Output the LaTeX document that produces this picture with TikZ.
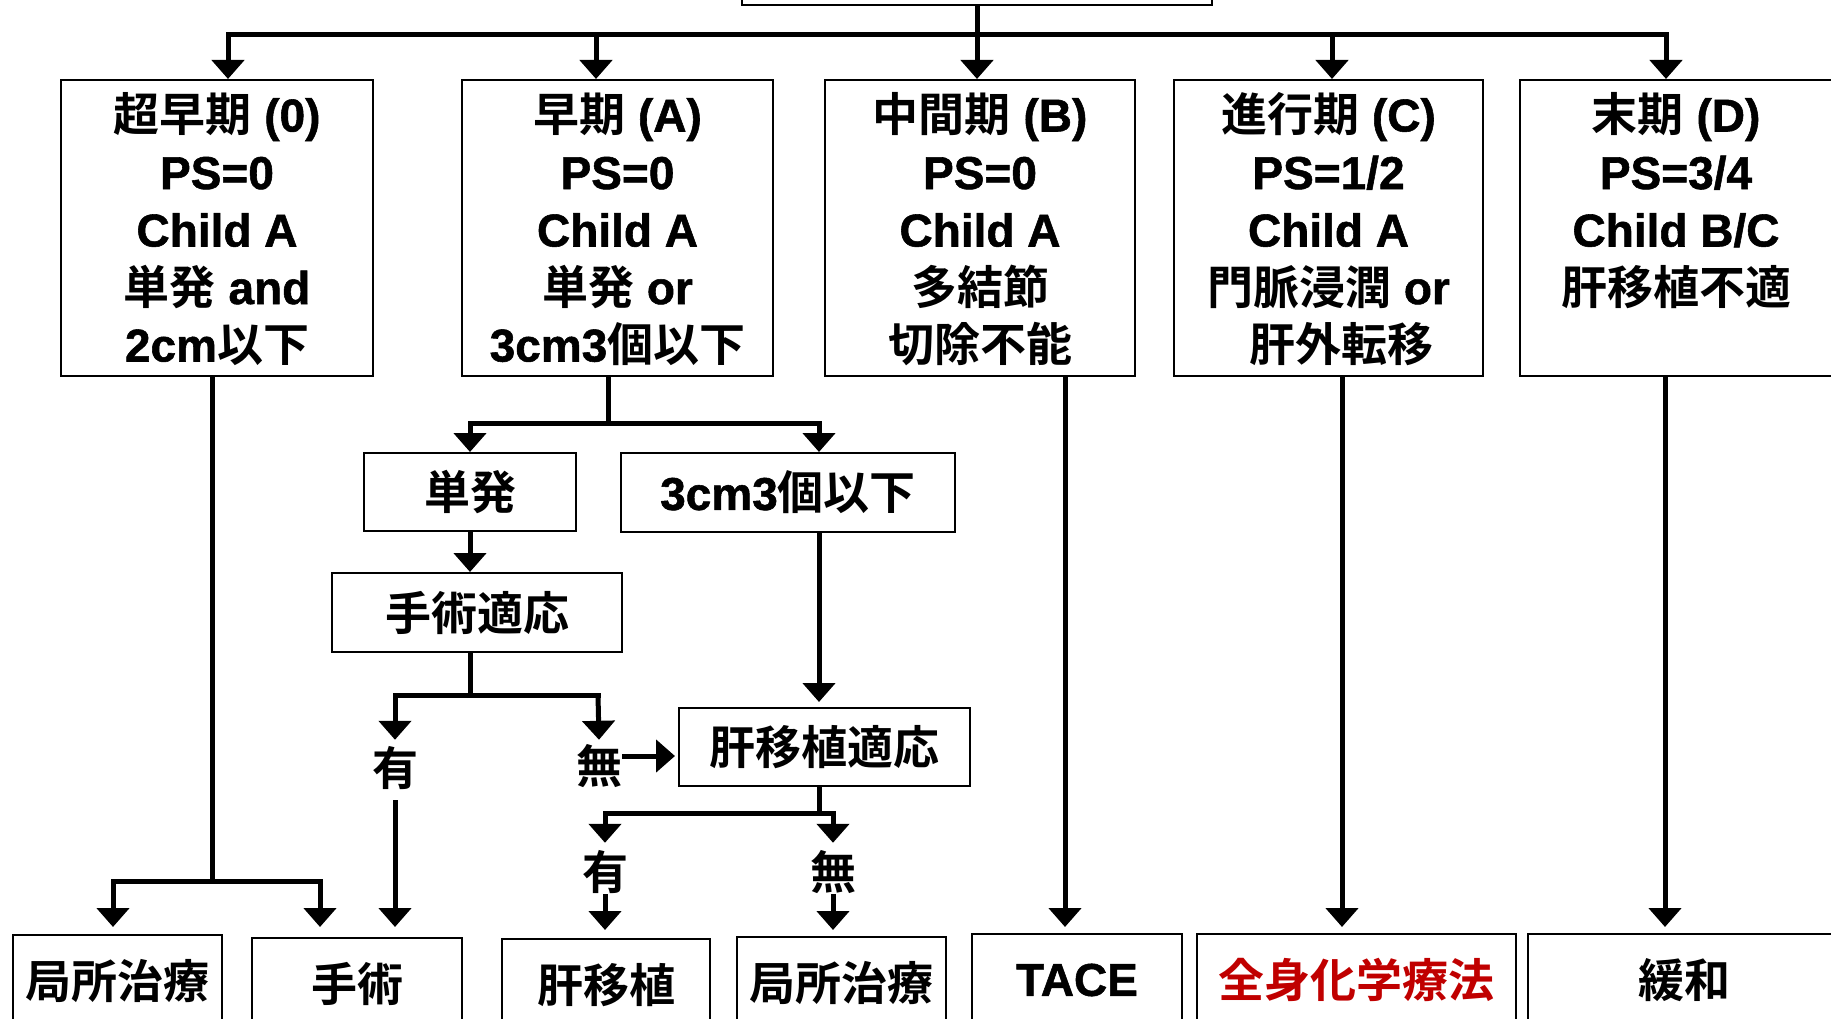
\documentclass[tikz,border=0pt]{standalone}
\usepackage{fontspec}
\setmainfont{Liberation Sans}[BoldFont={Liberation Sans Bold}, BoldFeatures={FakeBold=1.2}]
\newfontfamily\jpf{Noto Sans CJK JP}[BoldFont={Noto Sans CJK JP Bold}]
\usetikzlibrary{arrows.meta}
\newcommand\jt[1]{{\jpf #1}}
\newcommand\sr{\rule[-12pt]{0pt}{40pt}}
\newcommand\tp{\rule{0pt}{49pt}}
\definecolor{redtx}{RGB}{192,0,0}
\begin{document}
\begin{tikzpicture}[x=1pt,y=-1pt,
  box/.style={draw, line width=2pt, inner sep=0pt, font=\fontsize{46}{57.5}\selectfont\bfseries, align=center},
  ln/.style={line width=5pt},
  arr/.style={ln, -{Triangle[width=32pt,length=19pt]}},
  lbl/.style={inner sep=0pt, minimum height=44pt, font=\fontsize{46}{46}\selectfont\bfseries\jpf}]
\useasboundingbox (0,0) rectangle (1831,1019);
\begin{scope}
\clip (0,0) rectangle (1831,1019);
% top box
\node[box, minimum width=470pt, minimum height=65pt] (top) at (977,-27.5) {};
% stage boxes
\node[box, minimum width=312pt, minimum height=296pt] (s0) at (217,228)
  {\tp\jt{超早期} (0)\\PS=0\\Child A\\\jt{単発} and\\2cm\jt{以下}\sr};
\node[box, minimum width=311pt, minimum height=296pt] (s1) at (617.5,228)
  {\tp\jt{早期} (A)\\PS=0\\Child A\\\jt{単発} or\\3cm3\jt{個以下}\sr};
\node[box, minimum width=310pt, minimum height=296pt] (s2) at (980,228)
  {\tp\jt{中間期} (B)\\PS=0\\Child A\\\jt{多結節}\\\jt{切除不能}\sr};
\node[box, minimum width=309pt, minimum height=296pt] (s3) at (1328.5,228)
  {\tp\jt{進行期} (C)\\PS=1/2\\Child A\\\jt{門脈浸潤} or\\\hspace*{26pt}\jt{肝外転移}\sr};
\node[box, minimum width=312pt, minimum height=296pt] (s4) at (1676,228)
  {\tp\jt{末期} (D)\\PS=3/4\\Child B/C\\\jt{肝移植不適}\\\sr};
% middle boxes
\node[box, minimum width=212pt, minimum height=78pt] (m1) at (470,492) {\jt{単発}};
\node[box, minimum width=334pt, minimum height=79pt] (m2) at (788,492.5) {3cm3\jt{個以下}};
\node[box, minimum width=290pt, minimum height=79pt] (m3) at (477,612.5) {\jt{手術適応}};
\node[box, minimum width=291pt, minimum height=78pt] (m4) at (824.5,747) {\jt{肝移植適応}};
% labels
\node[lbl] (l1) at (395,768) {有};
\node[lbl] (l2) at (599,766) {無};
\node[lbl] (l3) at (605,872) {有};
\node[lbl] (l4) at (833,872) {無};
% bottom boxes
\node[box, anchor=north, minimum width=209pt, minimum height=92pt] (b0) at (117.5,934) {\jt{局所治療}};
\node[box, anchor=north, minimum width=210pt, minimum height=92pt] (b1) at (357,937) {\jt{手術}};
\node[box, anchor=north, minimum width=208pt, minimum height=92pt] (b2) at (606,938) {\jt{肝移植}};
\node[box, anchor=north, minimum width=209pt, minimum height=92pt] (b3) at (841.5,936) {\jt{局所治療}};
\node[box, anchor=north, minimum width=210pt, minimum height=92pt] (b4) at (1077,933) {TACE};
\node[box, anchor=north, minimum width=319pt, minimum height=92pt, text=redtx] (b5) at (1356.5,933) {\jt{全身化学療法}};
\node[box, anchor=north, minimum width=312pt, minimum height=92pt] (b6) at (1684,933) {\jt{緩和}};
% bus
\coordinate (bus0) at (228,35);
\coordinate (bus1) at (596,35);
\coordinate (bus3) at (1332,35);
\coordinate (bus4) at (1666,35);
\draw[ln, line cap=rect] (bus0) -- (bus4);
\draw[arr] (top.south) -- (top.south |- s2.north);
\draw[arr] (bus0) -- (bus0 |- s0.north);
\draw[arr] (bus1) -- (bus1 |- s1.north);
\draw[arr] (bus3) -- (bus3 |- s3.north);
\draw[arr] (bus4) -- (bus4 |- s4.north);
% stage 0 branch
\coordinate (j0) at (212,881);
\coordinate (j0l) at (113,881);
\coordinate (j0r) at (320,881);
\draw[ln] (s0.south -| j0) -- (j0);
\draw[ln, line cap=rect] (j0l) -- (j0r);
\draw[arr] (j0l) -- ([yshift=7pt]j0l |- b0.north);
\draw[arr] (j0r) -- ([yshift=10pt]j0r |- b1.north);
% stage A branch
\coordinate (jA) at (608,423);
\coordinate (jAl) at (470,423);
\coordinate (jAr) at (819,423);
\draw[ln] (s1.south -| jA) -- (jA);
\draw[ln, line cap=rect] (jAl) -- (jAr);
\draw[arr] (jAl) -- (jAl |- m1.north);
\draw[arr] (jAr) -- (jAr |- m2.north);
\draw[arr] (m1.south) -- (m1.south |- m3.north);
% surgery indication branch
\coordinate (jB) at (470,695);
\coordinate (jBl) at (395,695);
\coordinate (jBr) at (598,695);
\draw[ln] (m3.south -| jB) -- (jB);
\draw[ln, line cap=rect] (jBl) -- (jBr);
\draw[arr] (jBl) -- ([yshift=6pt]l1.north);
\draw[arr] (jBr) -- ([yshift=4pt]l2.north);
\draw[arr] ([yshift=-10pt]l1.south) -- ([yshift=10pt]l1.south |- b1.north);
\draw[arr] ([yshift=10pt]l2.east) -- ([xshift=-3pt,yshift=10pt]l2.east -| m4.west);
\draw[arr] (m2.south -| jAr) -- ([yshift=5pt]jAr |- m4.north);
% transplant indication branch
\coordinate (jC) at (819,813);
\coordinate (jCl) at (605,813);
\coordinate (jCr) at (833,813);
\draw[ln] (m4.south -| jC) -- (jC);
\draw[ln, line cap=rect] (jCl) -- (jCr);
\draw[arr] (jCl) -- ([yshift=7pt]l3.north);
\draw[arr] (jCr) -- ([yshift=7pt]l4.north);
\draw[arr] (l3.south) -- ([yshift=8pt]l3.south |- b2.north);
\draw[arr] (l4.south) -- ([yshift=6pt]l4.south |- b3.north);
% B, C, D
\coordinate (xB) at (1065,0);
\coordinate (xC) at (1342,0);
\coordinate (xD) at (1665,0);
\draw[arr] (s2.south -| xB) -- ([yshift=6pt]xB |- b4.north);
\draw[arr] (s3.south -| xC) -- ([yshift=6pt]xC |- b5.north);
\draw[arr] (s4.south -| xD) -- ([yshift=6pt]xD |- b6.north);
\end{scope}
\end{tikzpicture}
\end{document}
